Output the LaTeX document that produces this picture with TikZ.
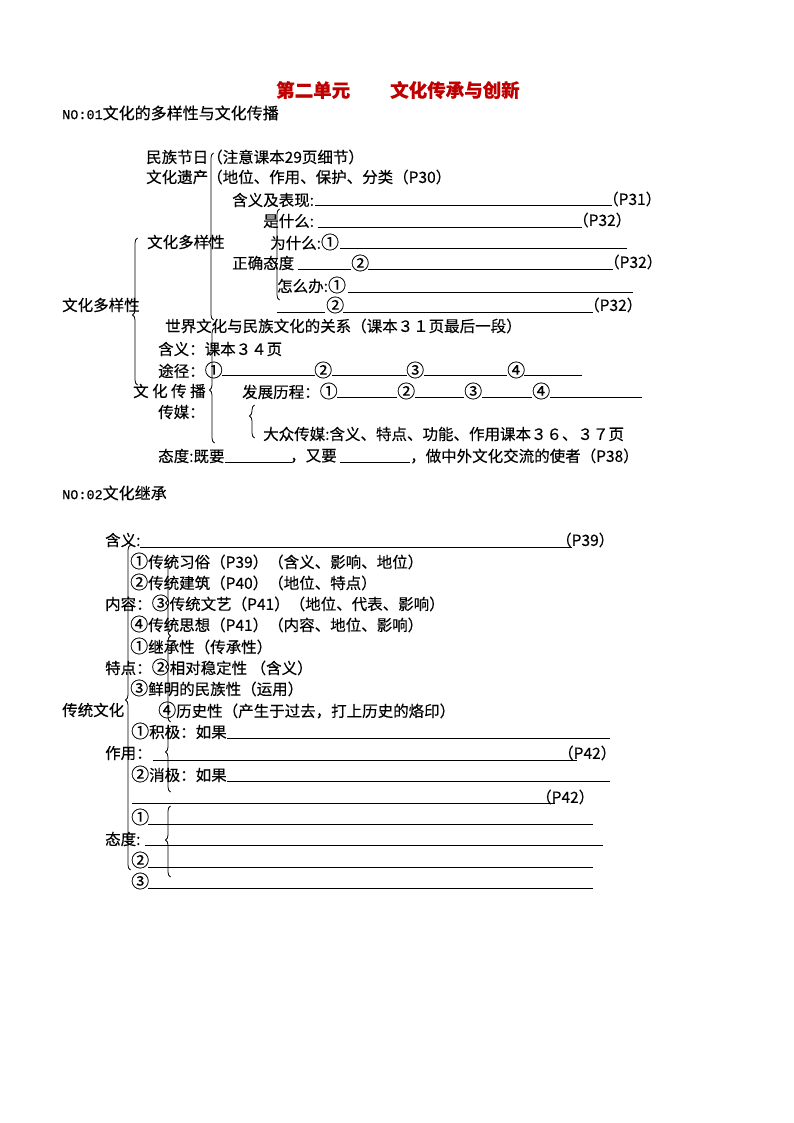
\documentclass[tikz,border=0pt]{standalone}
\usepackage{fontspec}
\setmainfont{Noto Sans CJK SC}
\newfontfamily\cjk[FakeBold=0.3]{Noto Sans CJK SC}
\newfontfamily\mono[FakeBold=0.6]{Liberation Mono}
\usetikzlibrary{decorations.pathreplacing}
\definecolor{titlered}{RGB}{190,0,0}
\tikzset{
  t/.style={font=\cjk\fontsize{15.5}{18}\selectfont, inner sep=0pt, anchor=west},
  hd/.style={font=\cjk\fontsize{16}{18}\selectfont, inner sep=0pt, anchor=west},
  ttl/.style={font=\cjk\bfseries\fontsize{18.5}{20}\selectfont, text=titlered, inner sep=0pt, anchor=west},
  ul/.style={line width=0.8pt},
  br/.style={line width=0.8pt, decorate}
}
\newcommand\cn[1]{{\fontsize{18}{18}\selectfont #1}}
\newcommand\brc[4]{\pgfmathsetmacro\brasp{(#3-#4)/(#3-#2)}%
  \draw[br,decoration={brace,amplitude=5pt,aspect=\brasp}] ({#1+2.5},#3) -- ({#1+2.5},#2);}
\newcommand\fillline[3]{\draw[ul] (#1,#3) -- (#2,#3);}
\begin{document}
\begin{tikzpicture}[x=1pt,y=-1pt]
\useasboundingbox[fill=white] (0,0) rectangle (794,1123);
% title
\node[ttl] (t1) at (276,90) {第二单元};
\node[ttl] (t2) at (390,90) {文化传承与创新};
\node[hd] (h1) at (62,113) {{\mono\fontsize{13.5}{14}\selectfont NO:01}文化的多样性与文化传播};
% section 1
\node[t] (a1) at (146,157) {民族节日};
\node[t] (a2) at (207,157) {（注意课本29页细节）};
\node[t] (a3) at (146,177) {文化遗产};
\node[t] (a4) at (207,177) {（地位、作用、保护、分类（P30）};
\node[t] (a5) at (232,200) {含义及表现:};
\fillline{315}{612}{205}
\node[t] (a6) at (603,199) {（P31）};
\node[t] (a7) at (263,221) {是什么:};
\fillline{318}{582}{227}
\node[t] (a8) at (573,220) {（P32）};
\node[t] (a9) at (147,242) {文化多样性};
\node[t] (a10) at (270,242) {为什么:\cn{①}};
\fillline{340}{627}{248}
\node[t] (a11) at (232,263) {正确态度};
\fillline{298}{351}{269}
\node[t] (a12) at (351,263) {\cn{②}};
\fillline{368}{613}{269}
\node[t] (a13) at (604,262) {（P32）};
\node[t] (a14) at (277,285) {怎么办:\cn{①}};
\fillline{348}{633}{292}
\node[t] (a15) at (62,305) {文化多样性};
\fillline{277}{325}{312}
\node[t] (a16) at (326,305) {\cn{②}};
\fillline{343}{593}{312}
\node[t] (a17) at (584,305) {（P32）};
\node[t] (a18) at (165,326) {世界文化与民族文化的关系（课本３１页最后一段）};
\node[t] (a19) at (158,349) {含义：课本３４页};
\node[t] (a20) at (158,370) {途径：\cn{①}};
\fillline{222}{315}{375}
\node[t] (a21) at (314,370) {\cn{②}};
\fillline{332}{407}{375}
\node[t] (a22) at (406,370) {\cn{③}};
\fillline{424}{507}{375}
\node[t] (a23) at (507,370) {\cn{④}};
\fillline{524}{582}{375}
\node[t] (a24) at (133,391) {文 化 传 播};
\node[t] (a25) at (242,391) {发展历程：\cn{①}};
\fillline{337}{397}{397}
\node[t] (a26) at (397,391) {\cn{②}};
\fillline{415}{464}{397}
\node[t] (a27) at (464,391) {\cn{③}};
\fillline{482}{532}{397}
\node[t] (a28) at (532,391) {\cn{④}};
\fillline{550}{642}{397}
\node[t] (a29) at (158,412) {传媒：};
\node[t] (a30) at (263,434) {大众传媒:含义、特点、功能、作用课本３６、３７页};
\node[t] (a31) at (158,456) {态度:既要};
\fillline{225}{292}{462}
\node[t] (a32) at (290,456) {，又要};
\fillline{340}{410}{462}
\node[t] (a33) at (410,456) {，做中外文化交流的使者（P38）};
% braces section 1
\brc{135}{238}{385}{315}
\brc{211}{153}{320}{242}
\brc{212}{328}{443}{390}
\brc{277}{209}{300}{263}
\brc{252}{405}{438}{416}
% section 2
\node[hd] (h2) at (62,493) {{\mono\fontsize{13.5}{14}\selectfont NO:02}文化继承};
\node[t] (b1) at (105,540) {含义:};
\fillline{140}{572}{547}
\node[t] (b2) at (556,540) {（P39）};
\node[t] (b3) at (130,561) {\cn{①}传统习俗（P39）（含义、影响、地位）};
\node[t] (b4) at (130,582) {\cn{②}传统建筑（P40）（地位、特点）};
\node[t] (b5) at (105,603) {内容：\cn{③}传统文艺（P41）（地位、代表、影响）};
\node[t] (b6) at (130,624) {\cn{④}传统思想（P41）（内容、地位、影响）};
\node[t] (b7) at (130,646) {\cn{①}继承性（传承性）};
\node[t] (b8) at (105,667) {特点：\cn{②}相对稳定性 （含义）};
\node[t] (b9) at (130,688) {\cn{③}鲜明的民族性（运用）};
\node[t] (b10) at (62,710) {传统文化};
\node[t] (b11) at (158,710) {\cn{④}历史性（产生于过去，打上历史的烙印）};
\node[t] (b12) at (131,731) {\cn{①}积极：如果};
\fillline{227}{610}{738}
\node[t] (b13) at (105,753) {作用：};
\fillline{153}{577}{760}
\node[t] (b14) at (558,753) {（P42）};
\node[t] (b15) at (131,774) {\cn{②}消极：如果};
\fillline{227}{610}{781}
\fillline{132}{555}{803}
\node[t] (b16) at (536,797) {（P42）};
\node[t] (b17) at (131,817) {\cn{①}};
\fillline{148}{593}{824}
\node[t] (b18) at (105,839) {态度:};
\fillline{145}{603}{845}
\node[t] (b19) at (131,860) {\cn{②}};
\fillline{148}{593}{867}
\node[t] (b20) at (131,881) {\cn{③}};
\fillline{148}{593}{888}
% braces section 2
\brc{128}{545}{870}{700}
\brc{168}{562}{636}{603}
\brc{168}{636}{722}{667}
\brc{168}{728}{792}{752}
\brc{168}{806}{877}{840}
\end{tikzpicture}
\end{document}
